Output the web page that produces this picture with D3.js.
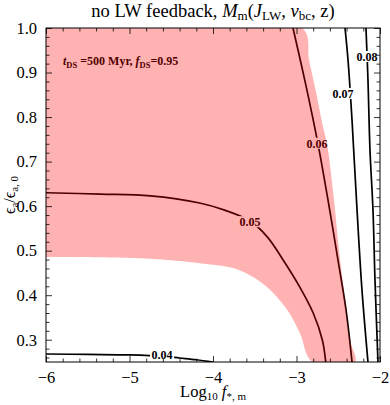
<!DOCTYPE html>
<html>
<head>
<meta charset="utf-8">
<script src="https://cdn.jsdelivr.net/npm/d3@7"></script>
<style>
  body { margin: 0; background: #fff; }
  text { font-family: "Liberation Serif", "Times New Roman", Times, serif; }
</style>
</head>
<body>
<div id="chart"></div>
<script>
// Chart data, x = log10 f*,m, y = eps_a / eps_a,0
var contour004 = [[-6, 0.268], [-5.5, 0.267], [-5, 0.266], [-4.6, 0.263], [-4.4, 0.259], [-4.2, 0.255], [-4.0, 0.25]];
var contour005 = [[-6, 0.630], [-5.35, 0.627], [-4.75, 0.623], [-4.16, 0.607], [-3.86, 0.591], [-3.56, 0.567],
                  [-3.35, 0.531], [-3.16, 0.479], [-2.96, 0.418], [-2.80, 0.360], [-2.69, 0.299], [-2.65, 0.25]];
var contour006 = [[-3.042, 1.0], [-2.886, 0.870], [-2.743, 0.740], [-2.623, 0.614], [-2.503, 0.479], [-2.407, 0.367],
                  [-2.335, 0.25]];
var contour007 = [[-2.419, 1.0], [-2.383, 0.928], [-2.335, 0.793], [-2.275, 0.591], [-2.216, 0.412], [-2.144, 0.25]];
var contour008 = [[-2.168, 1.0], [-2.144, 0.883], [-2.120, 0.726], [-2.084, 0.591], [-2.060, 0.434], [-2.024, 0.25]];

// pink (t_DS, f_DS) region, right edge top->bottom and lower edge right->left
var pinkRight = [[-2.934, 1.0], [-2.850, 0.928], [-2.754, 0.845], [-2.683, 0.778], [-2.635, 0.740], [-2.551, 0.614],
                 [-2.491, 0.501], [-2.419, 0.389], [-2.359, 0.299], [-2.300, 0.25]];
var pinkLower = [[-2.81, 0.25], [-2.96, 0.315], [-3.11, 0.367], [-3.35, 0.418], [-3.56, 0.445], [-3.76, 0.461],
                 [-4.16, 0.472], [-4.75, 0.482], [-6, 0.486]];

var contours = [contour004, contour005, contour006, contour007, contour008];
var contourLabels = [
  { text: "0.04", x: -4.61, y: 0.266 },
  { text: "0.05", x: -3.557, y: 0.564 },
  { text: "0.06", x: -2.755, y: 0.740 },
  { text: "0.07", x: -2.443, y: 0.852 },
  { text: "0.08", x: -2.156, y: 0.935 }
];

var xMajor = [-6, -5, -4, -3, -2];
var yMajor = [0.3, 0.4, 0.5, 0.6, 0.7, 0.8, 0.9, 1.0];

var serif = "'Liberation Serif', 'Times New Roman', Times, serif";

var margin = { top: 28, right: 10, bottom: 43, left: 46 },
    basewidth = 390,
    baseheight = 405,
    width = basewidth - margin.left - margin.right,
    height = baseheight - margin.top - margin.bottom;

var xScale = d3.scaleLinear().domain([-6, -2]).range([0, width]);
var yScale = d3.scaleLinear().domain([0.25, 1.0]).range([height, 0]);

// minor ticks
var xMinor = d3.range(-6, -2.0001, 0.2).map(function (d) { return +d.toFixed(2); })
    .filter(function (d) { return xMajor.indexOf(d) < 0; });
var yMinor = d3.range(0.26, 1.0, 0.02).map(function (d) { return +d.toFixed(2); })
    .filter(function (d) { return !yMajor.some(function (m) { return Math.abs(m - d) < 1e-6; }); });

var svg = d3.select("#chart").append("svg")
    .attr("width", basewidth)
    .attr("height", baseheight)
    .attr("font-family", serif);

var g = svg.append("g")
    .attr("transform", "translate(" + margin.left + "," + margin.top + ")");

g.append("clipPath").attr("id", "clip")
    .append("rect").attr("width", width).attr("height", height);

var plot = g.append("g").attr("clip-path", "url(#clip)");

var line = d3.line()
    .x(function (d) { return xScale(d[0]); })
    .y(function (d) { return yScale(d[1]); })
    .curve(d3.curveCatmullRom.alpha(0.5));

// contour lines
plot.selectAll(".contour")
    .data(contours)
    .enter().append("path")
    .attr("class", "contour")
    .attr("d", line)
    .attr("fill", "none")
    .attr("stroke", "#000")
    .attr("stroke-width", 1.7);

// contour labels with a white patch behind them
var lab = plot.selectAll(".clabel")
    .data(contourLabels)
    .enter().append("g")
    .attr("class", "clabel")
    .attr("transform", function (d) { return "translate(" + xScale(d.x) + "," + yScale(d.y) + ")"; });

lab.append("rect")
    .attr("x", -12).attr("y", -6)
    .attr("width", 24).attr("height", 11)
    .attr("fill", "#fff");

lab.append("text")
    .attr("text-anchor", "middle")
    .attr("y", 4)
    .attr("font-size", 12)
    .attr("font-weight", "bold")
    .attr("font-family", serif)
    .text(function (d) { return d.text; });

// annotation (sits under the translucent pink)
var ann = plot.append("text")
    .attr("x", 17)
    .attr("y", 37)
    .attr("font-size", 12)
    .attr("font-weight", "bold")
    .attr("font-family", serif);
ann.append("tspan").attr("font-style", "italic").text("t");
ann.append("tspan").attr("font-size", 8.5).attr("dy", 2.5).text("DS");
ann.append("tspan").attr("dy", -2.5).text(" =500 Myr, ");
ann.append("tspan").attr("font-style", "italic").text("f");
ann.append("tspan").attr("font-size", 8.5).attr("dy", 2.5).text("DS");
ann.append("tspan").attr("dy", -2.5).text("=0.95");

// pink region, smooth boundary
var regionPts = [[-6, 1.0]].concat(pinkRight, pinkLower);
plot.append("path")
    .attr("d", line(regionPts) + "Z")
    .attr("fill", "rgb(255,0,0)")
    .attr("fill-opacity", 0.3)
    .attr("stroke", "none");

// frame ticks, all four sides pointing inward
function addAxis(axisFn, scale, ticks, size, transform, labels) {
    var a = axisFn(scale).tickValues(ticks).tickSize(-size).tickPadding(size + 3);
    if (!labels) a.tickFormat("");
    var ag = g.append("g").attr("transform", transform).call(a);
    ag.attr("font-family", serif);
    ag.select(".domain").remove();
    ag.selectAll("line").attr("stroke", "#000").attr("stroke-width", 0.8);
    ag.selectAll("text").attr("font-size", 16.5).attr("fill", "#000");
    return ag;
}

addAxis(d3.axisBottom, xScale, xMajor, 6, "translate(0," + height + ")", true)
    .selectAll("text").text(function (d) { return d3.format("d")(d); });
addAxis(d3.axisBottom, xScale, xMinor, 3.5, "translate(0," + height + ")", false);
addAxis(d3.axisTop, xScale, xMajor, 6, "translate(0,0)", false);
addAxis(d3.axisTop, xScale, xMinor, 3.5, "translate(0,0)", false);
addAxis(d3.axisLeft, yScale, yMajor, 6, "translate(0,0)", true)
    .selectAll("text").text(function (d) { return d3.format(".1f")(d); });
addAxis(d3.axisLeft, yScale, yMinor, 3.5, "translate(0,0)", false);
addAxis(d3.axisRight, yScale, yMajor, 6, "translate(" + width + ",0)", false);
addAxis(d3.axisRight, yScale, yMinor, 3.5, "translate(" + width + ",0)", false);

g.append("rect")
    .attr("width", width).attr("height", height)
    .attr("fill", "none").attr("stroke", "#000").attr("stroke-width", 1);

// title
var title = svg.append("text")
    .attr("x", margin.left + width / 2)
    .attr("y", 17)
    .attr("text-anchor", "middle")
    .attr("font-size", 18.5);
title.append("tspan").text("no LW feedback, ");
title.append("tspan").attr("font-style", "italic").text("M");
title.append("tspan").attr("font-size", 13).attr("dy", 3).text("m");
title.append("tspan").attr("dy", -3).text("(");
title.append("tspan").attr("font-style", "italic").text("J");
title.append("tspan").attr("font-size", 13).attr("dy", 3).text("LW");
title.append("tspan").attr("dy", -3).text(", ");
title.append("tspan").attr("font-style", "italic").text("v");
title.append("tspan").attr("font-size", 13).attr("dy", 3).text("bc");
title.append("tspan").attr("dy", -3).text(", z)");

// x label
var xl = svg.append("text")
    .attr("x", margin.left + width / 2)
    .attr("y", 397)
    .attr("text-anchor", "middle")
    .attr("font-size", 16.5);
xl.append("tspan").text("Log");
xl.append("tspan").attr("font-size", 11).attr("dy", 3).text("10");
xl.append("tspan").attr("dy", -3).text(" ");
xl.append("tspan").attr("font-style", "italic").text("f");
xl.append("tspan").attr("font-size", 11).attr("dy", 3).text("*, m");

// y label
var yl = svg.append("text")
    .attr("transform", "translate(15," + (margin.top + height / 2) + ") rotate(-90)")
    .attr("text-anchor", "middle")
    .attr("font-size", 16);
yl.append("tspan").text("\u03f5");
yl.append("tspan").attr("font-size", 11).attr("dy", 3).text("a");
yl.append("tspan").attr("dy", -3).text("/\u03f5");
yl.append("tspan").attr("font-size", 11).attr("dy", 3).text("a, 0");
</script>
</body>
</html>
